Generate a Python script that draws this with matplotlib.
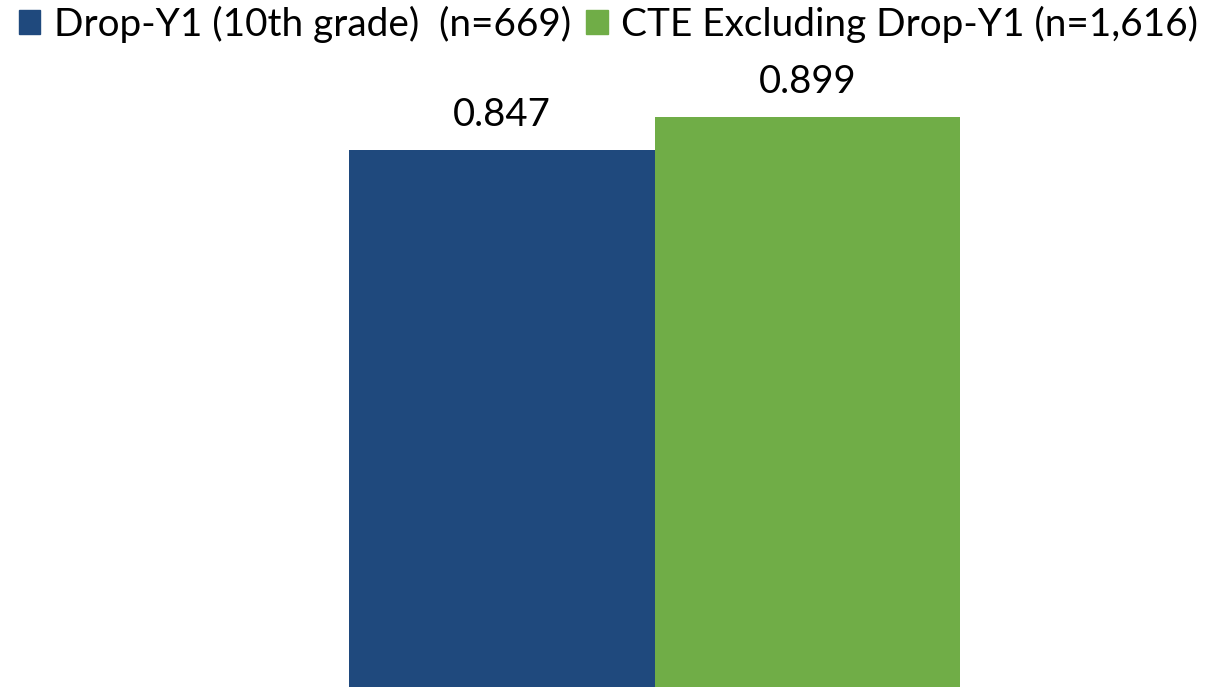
import matplotlib
matplotlib.use("Agg")
from matplotlib import pyplot as plt
from matplotlib.patches import Patch

plt.rcParams['font.family'] = ['Lato', 'DejaVu Sans']

groups = ['Drop-Y1 (10th grade)  (n=669)', 'CTE Excluding Drop-Y1 (n=1,616)']
values = [0.847, 0.899]
colors = ['#1F497D', '#70AD47']

fig = plt.figure(figsize=(12.17, 6.87), dpi=100)
ax = fig.add_axes([349 / 1217, 0, 611 / 1217, 634 / 687])

bars = ax.bar([0, 1], values, width=1.0, color=colors)
for b, v in zip(bars, values):
    ax.annotate(f"{v:.3f}", (b.get_x() + b.get_width() / 2, v),
                xytext=(0, 12), textcoords='offset points',
                ha='center', va='bottom', fontsize=27.5)

ax.set_xlim(-0.5, 1.5)
ax.set_ylim(0, 1)
ax.axis('off')

handles = [Patch(color=c) for c in colors]
fig.legend(handles, groups, loc='upper center', bbox_to_anchor=(0.5, 1.02),
           ncol=2, frameon=False, fontsize=27.9, handlelength=0.55, handleheight=0.55,
           handletextpad=0.35, columnspacing=0.4, borderaxespad=0.1)

fig.savefig('out.png', dpi=100)
